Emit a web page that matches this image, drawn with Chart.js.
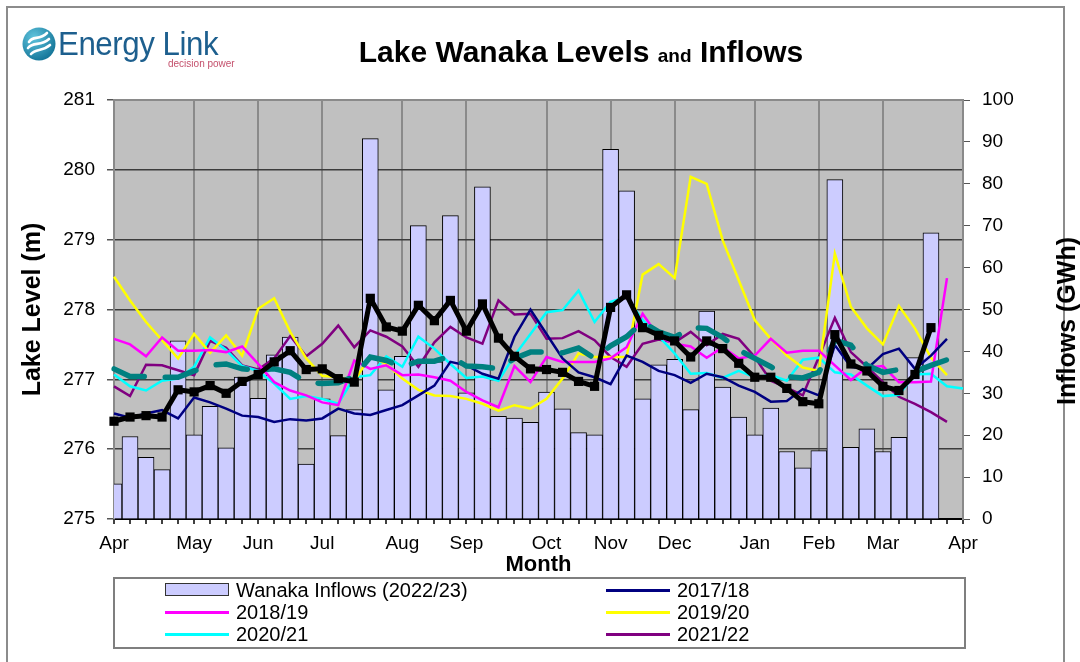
<!DOCTYPE html>
<html>
<head>
<meta charset="utf-8">
<title>Lake Wanaka Levels and Inflows</title>
<script src="https://cdn.jsdelivr.net/npm/chart.js@4.4.1/dist/chart.umd.min.js"></script>
<style>
  body { margin: 0; background: #fff; font-family: "Liberation Sans", Arial, sans-serif; }
  #wrap { position: relative; width: 1080px; height: 662px; overflow: hidden; }
  #frame { position: absolute; left: 6px; top: 6px; width: 1059px; height: 720px; border: 2px solid #8c8c8c; box-sizing: border-box; }
  #chart { position: absolute; left: 0; top: 0; }
  #logo { position: absolute; left: 22px; top: 26px; }
  #logo svg { position: absolute; left: 0; top: 1px; }
  #logo .name { position: absolute; left: 36px; top: -2px; font-size: 34px; color: #1d5f8e; white-space: nowrap;
                letter-spacing: -0.5px; transform: scaleX(0.92); transform-origin: left top; }
  #logo .tag { position: absolute; left: 146px; top: 32px; font-size: 10px; color: #c4506c; white-space: nowrap; }
  #title { position: absolute; left: 581px; top: 35px; transform: translateX(-50%); white-space: nowrap;
           font-size: 30px; font-weight: bold; color: #000; }
  #title small { font-size: 19px; }
  #rtitle { position: absolute; left: 1066px; top: 321px; transform: translate(-50%, -50%) rotate(-90deg);
            white-space: nowrap; font-size: 25px; font-weight: bold; color: #000; }
  #legend { position: absolute; left: 113px; top: 577px; width: 853px; height: 72px; box-sizing: border-box;
            border: 2px solid #7f7f7f; }
  #legend .item { position: absolute; height: 22px; font-size: 20px; line-height: 22px; white-space: nowrap; color: #000; }
  #legend .sym { position: absolute; left: 0; width: 64px; }
  #legend .txt { position: absolute; left: 71px; top: 0; }
</style>
</head>
<body>
<div id="wrap">
  <canvas id="chart" width="1080" height="662"></canvas>
  <div id="frame"></div>
  <div id="logo">
    <svg width="34" height="34" viewBox="0 0 34 34">
      <defs>
        <radialGradient id="lg" cx="35%" cy="30%" r="80%">
          <stop offset="0" stop-color="#5fc4dd"/>
          <stop offset="1" stop-color="#0e6f93"/>
        </radialGradient>
      </defs>
      <circle cx="17" cy="17" r="16.5" fill="url(#lg)"/>
      <path d="M7 15 C11 8, 17 14, 25 6" stroke="#fff" stroke-width="2.6" fill="none" stroke-linecap="round"/>
      <path d="M6 21 C12 14, 18 20, 27 12" stroke="#fff" stroke-width="2.6" fill="none" stroke-linecap="round"/>
      <path d="M9 27 C14 21, 20 25, 28 18" stroke="#fff" stroke-width="2.6" fill="none" stroke-linecap="round"/>
    </svg>
    <div class="name">Energy Link</div>
    <div class="tag">decision power</div>
  </div>
  <div id="title">Lake Wanaka Levels <small>and</small> Inflows</div>
  <div id="rtitle">Inflows (GWh)</div>
  <div id="legend"></div>
</div>

<script>
// Month names and the week where each month gridline sits
const monthNames = ['Apr', 'May', 'Jun', 'Jul', 'Aug', 'Sep', 'Oct', 'Nov', 'Dec', 'Jan', 'Feb', 'Mar', 'Apr'];
const monthWeeks = [0, 5, 9, 13, 18, 22, 27, 31, 35, 40, 44, 48, 53];

// Weekly inflows 2022/23 (GWh, right axis)
const inflows2223 = [8.4, 19.7, 14.7, 11.8, 42.5, 20.1, 26.9, 17.0, 33.9, 28.8, 39.2, 43.4, 13.1,
  28.7, 19.9, 26.1, 90.8, 30.8, 38.8, 70.0, 37.5, 72.4, 30.1, 79.3, 24.5, 24.1, 23.1,
  30.3, 26.3, 20.6, 20.1, 88.2, 78.3, 28.7, 36.8, 38.1, 26.1, 49.6, 31.5, 24.3,
  20.1, 26.5, 16.1, 12.2, 16.3, 81.0, 17.1, 21.5, 16.1, 19.5, 38.5, 68.3];

// Lake levels (m, left axis)
const level2223 = [276.40, 276.46, 276.48, 276.46, 276.85, 276.82, 276.91, 276.80, 276.97, 277.07,
  277.25, 277.41, 277.14, 277.15, 277.01, 276.96, 278.16, 277.75, 277.69, 278.06, 277.84, 278.13,
  277.69, 278.08, 277.59, 277.33, 277.15, 277.14, 277.10, 276.97, 276.90, 278.03, 278.21, 277.74,
  277.63, 277.55, 277.32, 277.55, 277.44, 277.23, 277.03, 277.03, 276.87, 276.68, 276.65, 277.64,
  277.22, 277.12, 276.90, 276.84, 277.07, 277.74];
const levelAvg = [277.15, 277.04, 277.04, 277.03, 277.03, 277.12, 277.20, 277.22, 277.15, 277.13,
  277.15, 277.10, 276.96, 276.94, 276.95, 277.04, 277.32, 277.27, 277.18, 277.26, 277.26, 277.33,
  277.19, 277.18, 277.15, 277.30, 277.39, 277.39, 277.38, 277.45, 277.30, 277.48, 277.61, 277.82,
  277.68, 277.60, 277.74, 277.73, 277.60, 277.42, 277.30, 277.18, 277.04, 277.02, 277.10, 277.56,
  277.49, 277.20, 277.10, 277.14, 277.11, 277.20, 277.28];
const level1718 = [276.51, 276.45, 276.51, 276.56, 276.44, 276.74, 276.67, 276.58, 276.48, 276.46,
  276.39, 276.43, 276.41, 276.44, 276.58, 276.51, 276.49, 276.56, 276.63, 276.77, 276.91, 277.25,
  277.20, 277.08, 277.01, 277.61, 278.00, 277.65, 277.30, 277.10, 277.03, 276.93, 277.34, 277.25,
  277.12, 277.06, 276.95, 277.08, 277.03, 276.91, 276.82, 276.68, 276.69, 276.86, 276.77, 277.49,
  277.18, 277.15, 277.36, 277.44, 277.15, 277.34, 277.58];
const level1819 = [277.58, 277.50, 277.33, 277.60, 277.41, 277.41, 277.42, 277.39, 277.47, 277.22,
  276.96, 276.84, 276.77, 276.67, 276.63, 277.27, 277.15, 277.20, 277.06, 277.07, 277.03, 276.98,
  276.82, 276.70, 276.60, 277.19, 276.96, 277.32, 277.25, 277.25, 277.25, 277.30, 277.46, 277.94,
  277.61, 277.51, 277.47, 277.31, 277.46, 277.30, 277.34, 277.58, 277.38, 277.41, 277.41, 277.20,
  276.99, 277.17, 277.19, 276.96, 276.96, 276.97, 278.45];
const level1920 = [278.47, 278.13, 277.82, 277.56, 277.30, 277.65, 277.38, 277.63, 277.34, 278.01,
  278.16, 277.68, 277.30, 277.05, 277.03, 276.98, 277.33, 277.22, 277.01, 276.85, 276.77, 276.76,
  276.72, 276.65, 276.55, 276.63, 276.58, 276.72, 277.01, 277.37, 277.32, 277.32, 277.32, 278.50,
  278.65, 278.45, 279.90, 279.80, 278.99, 278.42, 277.85, 277.58, 277.34, 277.17, 277.12, 278.80,
  278.04, 277.73, 277.50, 278.05, 277.73, 277.31, 277.06];
const level2021 = [277.07, 276.90, 276.84, 276.98, 277.01, 277.18, 277.60, 277.42, 277.19, 277.12,
  276.94, 276.72, 276.76, 276.72, 276.65, 277.03, 277.06, 277.33, 277.18, 277.61, 277.44, 277.22,
  277.02, 277.04, 276.98, 277.34, 277.65, 277.96, 277.99, 278.27, 277.82, 278.11, 278.18, 277.85,
  277.62, 277.37, 277.08, 277.09, 277.02, 277.12, 277.03, 277.06, 276.98, 277.28, 277.31, 277.10,
  277.07, 276.91, 276.76, 276.78, 277.07, 277.08, 276.90, 276.87];
const level2122 = [276.90, 276.76, 277.21, 277.20, 277.13, 277.06, 277.55, 277.45, 277.20, 277.14,
  277.30, 277.62, 277.33, 277.51, 277.77, 277.46, 277.70, 277.61, 277.47, 277.18, 277.53, 277.75,
  277.60, 277.51, 278.13, 277.93, 277.94, 277.58, 277.59, 277.69, 277.56, 277.32, 277.18, 277.51,
  277.57, 277.53, 277.68, 277.49, 277.65, 277.58, 277.32, 276.98, 276.88, 276.77, 277.32, 277.88,
  277.39, 277.18, 276.96, 276.75, 276.65, 276.53, 276.39];

// week labels: month name on the first week of the month, blank otherwise
const weekLabels = [];
for (let i = 0; i <= 53; i++) weekLabels.push('');
monthWeeks.forEach(function(w, i) { weekLabels[w] = monthNames[i]; });

const legendLabels = ['Wanaka Inflows (2022/23)', '2017/18', '2018/19', '2019/20', '2020/21', '2021/22'];

Chart.defaults.font.family = '"Liberation Sans", Arial, sans-serif';
Chart.defaults.color = '#000';

function yearLine(label, data, color) {
  return { type: 'line', label: label, data: data, borderColor: color, backgroundColor: color,
    borderWidth: 2.5, pointRadius: 0, tension: 0, yAxisID: 'y', order: 0 };
}

// grey plot area plus the top edge of the frame
const plotBack = {
  id: 'plotBack',
  beforeDraw(chart) {
    const a = chart.chartArea, ctx = chart.ctx;
    ctx.save();
    ctx.fillStyle = '#c0c0c0';
    ctx.fillRect(a.left, a.top, a.right - a.left, a.bottom - a.top);
    ctx.restore();
  },
  beforeDatasetsDraw(chart) {
    const a = chart.chartArea, ctx = chart.ctx;
    ctx.save();
    ctx.strokeStyle = '#8a8a8a';
    ctx.lineWidth = 2;
    ctx.beginPath();
    ctx.moveTo(a.left, a.top);
    ctx.lineTo(a.right, a.top);
    ctx.stroke();
    ctx.restore();
  }
};

const wanakaChart = new Chart(document.getElementById('chart').getContext('2d'), {
  type: 'bar',
  data: {
    labels: weekLabels,
    datasets: [
      { type: 'line', label: '2022/23', data: level2223, borderColor: '#000', backgroundColor: '#000',
        borderWidth: 5, borderJoinStyle: 'round', pointStyle: 'rect', pointRadius: 6.5, pointBorderWidth: 0,
        tension: 0, yAxisID: 'y', order: 0, clip: false },
      { type: 'line', label: 'Average', data: levelAvg, borderColor: '#008080', borderWidth: 5.5,
        borderDash: [32, 21], borderCapStyle: 'round', pointRadius: 0, tension: 0, yAxisID: 'y', order: 0 },
      yearLine('2017/18', level1718, '#000080'),
      yearLine('2018/19', level1819, '#ff00ff'),
      yearLine('2019/20', level1920, '#ffff00'),
      yearLine('2020/21', level2021, '#00ffff'),
      yearLine('2021/22', level2122, '#800080'),
      { type: 'bar', label: 'Wanaka Inflows (2022/23)', data: inflows2223, backgroundColor: '#ccccff',
        borderColor: '#000', borderWidth: 1, barPercentage: 1, categoryPercentage: 1, yAxisID: 'y2', order: 1 }
    ]
  },
  options: {
    responsive: false,
    animation: false,
    events: [],
    layout: { padding: { top: 100, bottom: 83, left: 0, right: 0 } },
    plugins: { legend: { display: false }, tooltip: { enabled: false } },
    scales: {
      x: {
        type: 'category',
        offset: false,
        grid: {
          offset: false,
          color: function(c) { return weekLabels[c.index] ? '#8a8a8a' : 'rgba(0,0,0,0)'; },
          lineWidth: 2,
          tickColor: '#000',
          tickWidth: 1.5,
          tickLength: 5
        },
        border: { color: '#000', width: 2 },
        ticks: { autoSkip: false, maxRotation: 0, padding: 8, font: { size: 19 } },
        title: { display: true, text: 'Month', font: { size: 22, weight: 'bold' }, padding: { top: 0, bottom: 1 } },
        afterFit: function(s) { s.height = 60; }
      },
      y: {
        position: 'left',
        min: 275,
        max: 281,
        ticks: { stepSize: 1, padding: 12, font: { size: 19 } },
        grid: { color: '#3c3c3c', lineWidth: 1.5, tickColor: '#555', tickLength: 7 },
        border: { color: '#8a8a8a', width: 2 },
        title: { display: true, text: 'Lake Level (m)', font: { size: 25, weight: 'bold' }, padding: { top: 18, bottom: 0 } },
        afterFit: function(s) { s.width = 114; }
      },
      y2: {
        position: 'right',
        min: 0,
        max: 100,
        ticks: { stepSize: 10, padding: 12, font: { size: 19 } },
        grid: { drawOnChartArea: false, tickColor: '#555', tickLength: 7 },
        border: { color: '#8a8a8a', width: 2 },
        afterFit: function(s) { s.width = 117; }
      }
    }
  },
  plugins: [plotBack]
});

// legend in two columns, built from the chart datasets
const legendBox = document.getElementById('legend');
legendLabels.forEach(function(label, j) {
  const ds = wanakaChart.data.datasets.find(function(d) { return d.label === label; });
  const item = document.createElement('div');
  item.className = 'item';
  item.style.left = (j % 2 === 0 ? 50 : 491) + 'px';
  item.style.top = (Math.floor(j / 2) * 22) + 'px';
  const sym = document.createElement('div');
  sym.className = 'sym';
  if (ds.type === 'bar') {
    sym.style.top = '4px';
    sym.style.height = '13px';
    sym.style.boxSizing = 'border-box';
    sym.style.background = ds.backgroundColor;
    sym.style.border = '1px solid #333';
  } else {
    sym.style.top = '10px';
    sym.style.height = '3px';
    sym.style.background = ds.borderColor;
  }
  const txt = document.createElement('div');
  txt.className = 'txt';
  txt.textContent = label;
  item.appendChild(sym);
  item.appendChild(txt);
  legendBox.appendChild(item);
});
</script>
</body>
</html>
